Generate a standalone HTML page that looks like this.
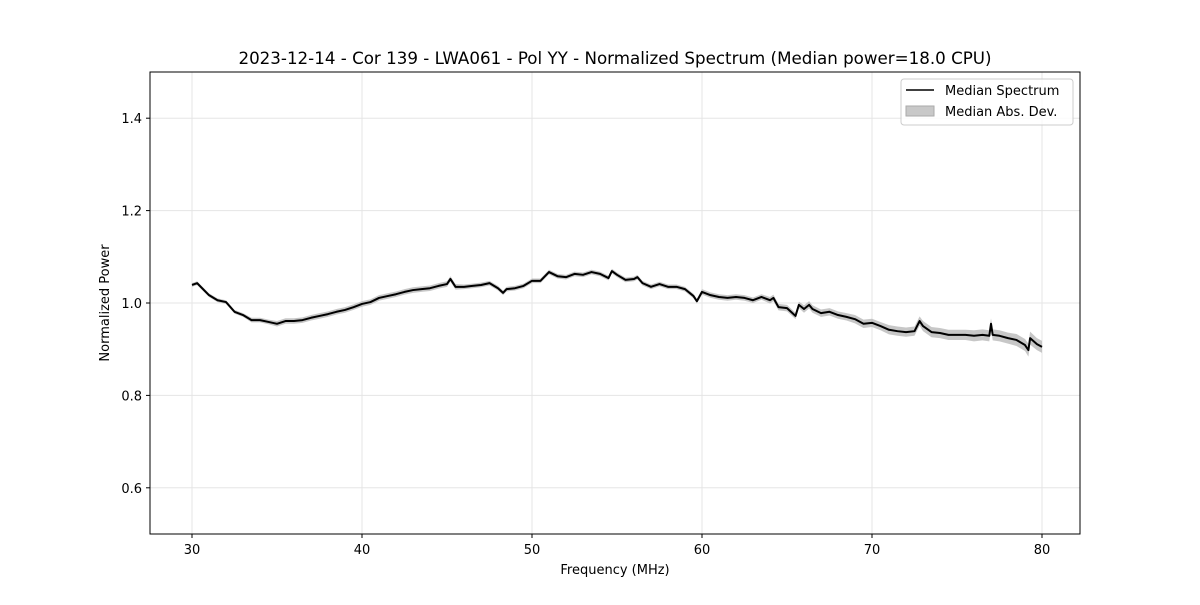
<!DOCTYPE html>
<html><head><meta charset="utf-8"><style>
body{margin:0;background:#fff;}
svg text{font-family:"DejaVu Sans","Liberation Sans",sans-serif;fill:#000;}
</style></head><body>
<svg id="chart" width="1200" height="600" xmlns="http://www.w3.org/2000/svg">
<rect width="1200" height="600" fill="#fff"/>
<g id="grid"></g>
<g id="series"></g>
<rect x="150" y="72" width="930" height="462" fill="none" stroke="#000" stroke-width="1"/>
<g id="ticks"></g>
<text x="615" y="64" font-size="16.7" text-anchor="middle">2023-12-14 - Cor 139 - LWA061 - Pol YY - Normalized Spectrum (Median power=18.0 CPU)</text>
<text x="615" y="574" font-size="13" text-anchor="middle">Frequency (MHz)</text>
<text x="0" y="0" font-size="13" text-anchor="middle" transform="translate(109,303) rotate(-90)">Normalized Power</text>
<g>
<rect x="901" y="79" width="172" height="46" rx="3" fill="#fff" fill-opacity="0.8" stroke="#ccc"/>
<line x1="906" y1="90" x2="934" y2="90" stroke="#000" stroke-width="1.5"/>
<text x="945" y="95" font-size="13">Median Spectrum</text>
<rect x="906" y="106" width="28" height="10" fill="#c8c8c8" stroke="#aaa"/>
<text x="945" y="116" font-size="13">Median Abs. Dev.</text>
</g>
</svg>
<script>
const freqs=[30,30.3,31,31.5,32,32.5,33,33.5,34,34.5,35,35.5,36,36.5,37,37.5,38,38.5,39,39.5,40,40.5,41,41.5,42,42.5,43,43.5,44,44.5,45,45.2,45.5,46,46.5,47,47.5,48,48.3,48.5,49,49.5,50,50.5,51,51.5,52,52.5,53,53.5,54,54.5,54.7,55,55.5,56,56.2,56.5,57,57.5,58,58.5,59,59.5,59.7,60,60.5,61,61.5,62,62.5,63,63.5,64,64.2,64.5,65,65.5,65.7,66,66.3,66.5,67,67.5,68,68.5,69,69.5,70,70.5,71,71.5,72,72.5,72.8,73,73.5,74,74.5,75,75.5,76,76.5,76.9,77,77.1,77.5,78,78.5,79,79.2,79.3,79.7,80];
const power=[1.039,1.043,1.017,1.006,1.002,0.981,0.974,0.963,0.963,0.959,0.955,0.961,0.961,0.963,0.968,0.972,0.976,0.981,0.985,0.991,0.998,1.002,1.011,1.015,1.019,1.024,1.028,1.030,1.032,1.037,1.041,1.052,1.035,1.035,1.037,1.039,1.043,1.032,1.022,1.030,1.032,1.037,1.048,1.048,1.067,1.058,1.056,1.063,1.061,1.067,1.063,1.054,1.069,1.061,1.050,1.052,1.056,1.043,1.035,1.041,1.035,1.035,1.030,1.015,1.004,1.024,1.017,1.013,1.011,1.013,1.011,1.006,1.013,1.006,1.011,0.991,0.989,0.972,0.996,0.987,0.996,0.987,0.978,0.981,0.974,0.970,0.965,0.955,0.957,0.950,0.942,0.939,0.937,0.939,0.961,0.950,0.937,0.935,0.931,0.931,0.931,0.929,0.931,0.929,0.955,0.931,0.929,0.924,0.920,0.909,0.898,0.924,0.911,0.905];
const mad=[0.004,0.004,0.004,0.004,0.004,0.004,0.004,0.005,0.005,0.005,0.006,0.006,0.006,0.006,0.006,0.006,0.006,0.006,0.006,0.006,0.006,0.006,0.006,0.006,0.006,0.006,0.006,0.006,0.006,0.006,0.006,0.006,0.006,0.005,0.005,0.005,0.005,0.005,0.005,0.005,0.005,0.005,0.005,0.005,0.005,0.005,0.005,0.005,0.005,0.005,0.005,0.005,0.005,0.005,0.005,0.005,0.005,0.005,0.005,0.005,0.005,0.005,0.005,0.005,0.005,0.006,0.006,0.006,0.006,0.006,0.006,0.006,0.006,0.007,0.007,0.007,0.007,0.007,0.007,0.008,0.008,0.008,0.008,0.008,0.008,0.008,0.009,0.009,0.009,0.009,0.010,0.010,0.010,0.010,0.010,0.011,0.011,0.011,0.011,0.011,0.011,0.012,0.012,0.012,0.012,0.012,0.012,0.012,0.013,0.013,0.014,0.014,0.013,0.013];
const xTicks=[30,40,50,60,70,80];
const yTicks=[0.6,0.8,1.0,1.2,1.4];
const X=f=>192+(f-30)*17;
const Y=v=>534-(v-0.5)*462;
const NS="http://www.w3.org/2000/svg";
function mk(t,a,p){const e=document.createElementNS(NS,t);for(const k in a)e.setAttribute(k,a[k]);p.appendChild(e);return e;}
const grid=document.getElementById('grid'),ticks=document.getElementById('ticks'),series=document.getElementById('series');
xTicks.forEach(t=>{
 const g=mk('line',{x1:X(t),x2:X(t),y1:72,y2:534,stroke:'#e5e5e5','stroke-width':1},grid);
 
 
 const k=mk('line',{x1:X(t),x2:X(t),y1:534,y2:538,stroke:'#000'},ticks);
 
 
 const l=mk('text',{x:X(t),y:554,'font-size':13,'text-anchor':'middle'},ticks);
 l.textContent=t;
 
 
});
yTicks.forEach(t=>{
 const g=mk('line',{x1:150,x2:1080,y1:Y(t),y2:Y(t),stroke:'#e5e5e5','stroke-width':1},grid);
 
 
 const k=mk('line',{x1:146,x2:150,y1:Y(t),y2:Y(t),stroke:'#000'},ticks);
 
 
 const l=mk('text',{x:142,y:Y(t)+5,'font-size':13,'text-anchor':'end'},ticks);
 l.textContent=t.toFixed(1);
 
 
});
let up=freqs.map((f,i)=>X(f)+','+Y(power[i]+mad[i]));
let dn=freqs.map((f,i)=>X(f)+','+Y(power[i]-mad[i])).reverse();
const band=mk('polygon',{points:up.concat(dn).join(' '),fill:'#b4b4b4','fill-opacity':0.75,stroke:'none'},series);


const line=mk('polyline',{points:freqs.map((f,i)=>X(f)+','+Y(power[i])).join(' '),fill:'none',stroke:'#000','stroke-width':2,'stroke-linejoin':'round'},series);


</script>
</body></html>
